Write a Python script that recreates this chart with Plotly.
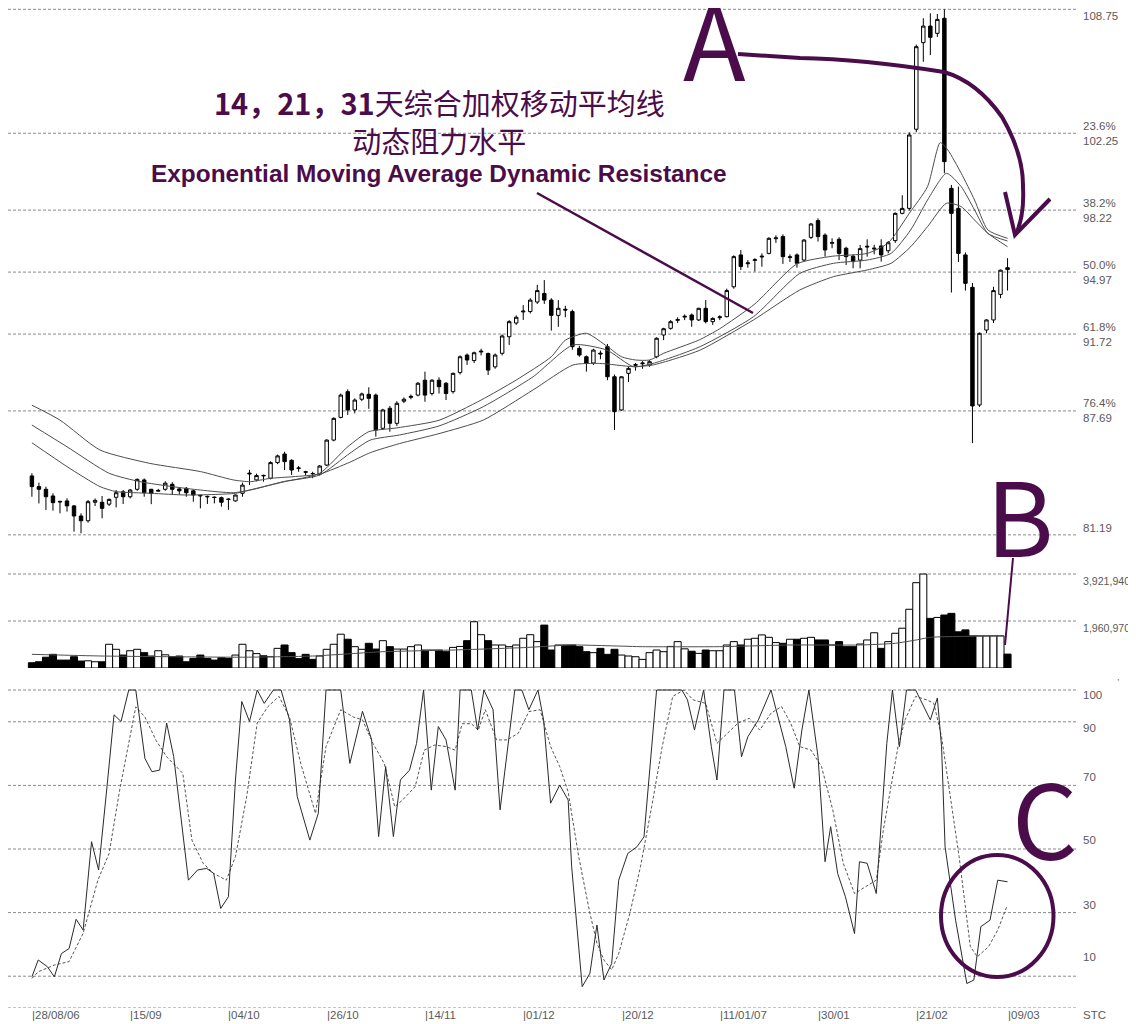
import plotly.graph_objects as go

# ---------------- data ----------------
opens = [84.28,83.72,83.58,83.23,82.95,82.97,82.71,82.18,81.93,82.90,
         82.90,82.80,83.16,83.45,83.19,83.58,84.07,83.58,83.48,83.58,
         83.84,83.60,83.63,83.50,83.26,83.21,83.17,83.14,83.07,82.97,
         83.37,84.38,84.07,84.31,84.16,84.98,85.43,85.10,84.70,84.50,
         84.41,84.38,84.85,86.16,87.35,88.70,87.74,88.30,88.56,88.52,
         86.78,87.83,87.04,88.20,88.40,88.52,89.30,88.60,89.30,89.14,
         88.70,89.70,90.62,90.33,90.78,90.70,90.00,90.71,91.58,92.30,
         92.88,92.90,93.40,93.85,93.50,92.70,93.02,92.90,90.97,90.53,
         90.20,90.72,91.06,89.48,87.74,89.66,90.08,90.16,90.10,90.53,
         91.67,92.02,92.44,92.61,92.72,92.46,93.07,92.37,92.58,92.63,
         94.20,95.87,95.41,95.58,95.76,95.95,96.72,96.83,95.73,95.87,
         95.60,96.79,97.67,96.91,96.48,96.69,96.22,95.80,95.60,96.28,
         96.18,96.34,96.09,96.62,98.05,98.31,102.46,107.00,107.87,107.49,
         108.28,99.36,98.31,95.87,94.17,88.00,91.93,92.46,93.80,95.20]
highs = [84.42,83.93,83.72,83.37,82.97,83.11,82.75,82.32,83.02,83.10,
         83.23,83.10,83.54,83.54,83.60,84.15,84.15,83.60,83.60,84.00,
         83.95,83.70,83.70,83.55,83.30,83.25,83.20,83.20,83.10,83.30,
         83.93,84.60,84.40,84.35,85.05,85.40,85.55,85.15,84.80,84.55,
         84.50,84.85,86.20,87.35,88.60,88.82,88.35,88.65,88.93,88.60,
         87.80,87.95,88.20,88.40,88.55,89.20,89.75,89.35,89.45,89.20,
         89.70,90.60,90.70,90.80,90.95,90.75,90.70,91.70,92.45,92.70,
         93.24,93.60,94.30,94.55,93.60,93.50,93.20,93.00,91.10,90.60,
         90.95,90.85,91.20,89.60,89.50,90.00,90.20,90.30,90.35,91.55,
         92.05,92.45,92.60,92.75,92.80,93.10,93.50,92.60,92.70,94.10,
         95.85,96.13,95.60,95.70,95.95,96.80,96.90,96.95,95.90,95.95,
         96.70,97.55,97.79,97.00,96.74,96.80,96.30,95.90,96.39,96.69,
         96.40,96.69,96.60,98.10,99.00,102.30,106.90,108.28,108.54,108.50,
         108.75,99.54,99.45,96.00,94.40,91.80,92.50,94.20,95.10,95.70]
lows = [83.19,82.84,82.49,82.46,82.32,82.41,81.36,81.27,81.83,82.70,
        82.06,82.70,82.63,82.81,83.10,83.50,83.19,82.80,83.45,83.50,
        83.28,83.30,83.19,82.93,82.58,82.81,82.84,82.67,82.50,82.93,
        83.19,83.80,84.00,83.98,84.10,84.90,84.59,84.33,84.50,84.30,
        84.16,84.30,84.80,86.10,87.30,87.48,87.56,88.20,87.80,86.34,
        86.70,86.60,86.90,88.10,88.30,88.45,88.17,88.50,88.60,88.26,
        88.60,89.60,90.10,90.20,90.60,89.57,89.90,90.60,91.15,92.20,
        92.46,92.80,93.30,93.30,91.90,92.10,92.60,90.90,90.53,89.75,
        90.10,90.40,89.30,86.69,87.70,89.20,89.80,89.90,90.00,90.45,
        91.40,91.95,92.30,92.45,92.10,92.40,92.28,92.20,92.45,92.60,
        94.10,95.08,95.20,95.00,95.25,95.90,96.50,95.40,95.50,95.20,
        95.50,96.70,96.57,95.78,96.22,95.60,95.34,95.17,95.17,95.78,
        95.90,95.52,95.95,96.50,98.00,98.20,102.30,106.00,106.35,107.30,
        100.15,93.90,95.50,94.00,86.00,87.90,91.76,92.30,93.60,94.00]
closes = [83.72,83.58,83.19,82.88,82.92,82.71,82.18,81.93,82.93,83.00,
          82.58,83.05,83.40,83.19,83.54,84.10,83.40,83.37,83.52,83.90,
          83.58,83.50,83.40,83.28,83.24,83.19,83.15,82.90,83.05,83.28,
          83.80,84.42,84.30,84.29,84.98,85.33,85.03,84.59,84.68,84.48,
          84.40,84.80,86.16,87.30,88.52,87.74,88.26,88.58,88.35,86.69,
          87.74,87.04,88.09,88.30,88.45,89.14,88.52,89.30,88.96,88.60,
          89.66,90.53,90.36,90.74,90.82,89.83,90.62,91.62,92.37,92.60,
          92.92,93.50,94.00,93.50,92.70,93.07,92.98,91.06,90.62,90.18,
          90.88,90.68,89.48,87.65,89.48,89.92,90.12,90.20,90.27,91.50,
          92.00,92.37,92.48,92.65,92.46,93.07,92.37,92.54,92.62,94.00,
          95.78,95.26,95.45,95.62,95.80,96.74,96.76,95.78,95.77,95.43,
          96.65,97.49,96.83,96.13,96.52,95.95,95.78,95.52,96.20,96.32,
          96.22,95.87,96.51,98.05,98.31,102.16,106.79,107.87,107.28,108.22,
          100.76,98.05,95.95,94.38,87.95,91.76,92.46,94.00,95.07,95.10]

# volume in millions
volume_m = [0.22,0.26,0.45,0.57,0.33,0.33,0.47,0.29,0.30,0.26,
            0.26,0.99,0.78,0.54,0.72,0.78,0.64,0.50,0.72,0.55,
            0.47,0.50,0.26,0.40,0.54,0.40,0.33,0.43,0.40,0.54,
            0.99,0.72,0.60,0.51,0.47,0.82,0.96,0.64,0.39,0.57,
            0.36,0.50,0.78,0.99,1.41,1.20,0.89,0.78,1.03,0.79,
            1.14,0.89,0.79,0.79,0.89,0.96,0.75,0.75,0.75,0.68,
            0.86,0.90,1.14,1.93,1.39,1.14,0.96,0.96,0.89,0.96,
            1.24,1.39,1.10,1.79,0.75,0.96,0.96,0.96,0.89,0.68,
            0.64,0.82,0.57,0.78,0.54,0.50,0.47,0.36,0.64,0.75,
            0.68,0.90,1.10,0.80,0.70,0.61,0.75,0.72,0.72,0.96,
            1.10,0.96,1.20,1.24,1.38,1.28,1.06,1.03,1.20,1.20,
            1.24,1.28,1.17,1.17,0.96,1.10,0.89,0.89,1.00,1.17,
            1.47,0.82,1.10,1.45,1.66,2.45,3.56,3.92,2.07,2.11,
            2.21,2.28,1.51,1.59,1.34,1.34,1.34,1.34,1.34,0.58]

vma_x = [0, 10, 20, 30, 40, 50, 60, 70, 77, 87, 98, 108, 118, 123, 126, 128, 138.5]
vma_m = [0.57, 0.50, 0.47, 0.45, 0.50, 0.68, 0.75, 0.85, 0.96, 0.89, 0.89, 0.96, 0.96, 1.03, 1.17, 1.28, 1.34]

ema14_x = [0, 5, 9.7, 12, 17, 22, 29, 32, 36, 41, 45, 48, 52, 58, 64, 69, 74, 76, 79, 82, 84, 86, 88, 90,
           95, 98, 103, 109, 114, 119, 122, 125, 127.6, 129.4, 130.5, 132.4, 134.3, 136.2, 139]
ema14_v = [86.02, 84.77, 83.72, 83.46, 83.37, 83.28, 83.37, 83.63, 83.98, 84.42, 85.81, 86.60, 86.80, 87.20,
           88.26, 89.31, 90.53, 91.40, 91.76, 91.06, 90.53, 90.36, 90.36, 90.71, 91.40, 92.00, 93.30, 95.40,
           95.80, 95.95, 96.50, 98.05, 99.45, 101.76, 101.37, 100.15, 98.75, 97.18, 96.74]
ema21_x = [0, 5, 11, 15.4, 20, 24, 28.7, 31.6, 35.8, 41, 45.3, 48.2, 52.4, 58, 64.3, 71.4, 77.1, 81.9, 85.7,
           88.5, 95.2, 102.8, 109.4, 114.2, 119, 122.4, 125.2, 127.6, 130.3, 132.4, 134.3, 136.2, 139]
ema21_v = [86.95, 85.81, 84.42, 83.98, 83.72, 83.54, 83.40, 83.58, 83.98, 84.33, 85.47, 86.16, 86.43, 86.90,
           87.91, 89.48, 91.15, 90.88, 90.01, 90.18, 91.06, 92.63, 94.90, 95.43, 95.60, 95.95, 97.18, 98.75,
           100.15, 99.45, 98.23, 97.00, 96.60]
ema31_x = [0, 4, 9.7, 16.8, 24, 28.7, 31.1, 33.9, 37.2, 41, 45.3, 48.2, 52.4, 58, 64.3, 71.4, 77.1, 80.9, 85.7,
           88.5, 95.2, 102.8, 109.4, 114.2, 119, 122.4, 125.2, 127.6, 130.3, 132.4, 134.3, 136.2, 139]
ema31_v = [87.99, 87.21, 85.64, 84.94, 84.51, 84.07, 83.98, 84.15, 84.24, 84.38, 85.00, 85.50, 85.98, 86.50,
           87.21, 88.79, 90.10, 90.18, 90.01, 90.10, 90.88, 92.46, 94.03, 94.73, 95.08, 95.43, 96.30, 97.35,
           98.58, 98.40, 97.70, 97.00, 96.30]

k_x = [0, 0.9, 2.2, 3.2, 4.2, 5.3, 6.3, 7.3, 8.5, 9.5,
       10.7, 11.7, 12.7, 13.8, 14.8, 16.1, 17.1, 18.2, 19.2, 20.2,
       22.3, 23.6, 24.9, 25.9, 26.9, 28, 29, 29.9, 31, 32.1,
       33.1, 34.4, 35.5, 36.7, 37.8, 39.6, 40.8, 41.9, 44, 45.3,
       47.1, 48.4, 49.4, 50.4, 51.5, 52.5, 53.8, 54.8, 55.8, 56.9,
       57.9, 59, 60.3, 61, 62.6, 63.5, 64.4, 65.7, 66.7, 68,
       68.8, 69.8, 70.8, 72.1, 72.9, 73.9, 75.2, 76.4, 76.9, 78.4,
       79.5, 80.5, 81.5, 82.6, 83.6, 84.9, 86.2, 87.2, 89, 92.6,
       93.4, 94.4, 95.7, 96.8, 97.6, 98.6, 100.1, 101.1, 102, 103.5,
       105.3, 107.4, 108.6, 109.7, 110.7, 112, 113, 113.8, 114.8, 115.9,
       117.2, 117.9, 119, 120.3, 121.8, 122.6, 123.6, 124.6, 125.9, 128,
       129, 129.6, 130.1, 131.6, 133.2, 134.2, 135.2, 136.5, 137.6, 139]
k_v = [9.8, 15.1, 13.0, 9.8, 17.1, 18.7, 27.9, 24.5, 52.3, 43.4,
       69.6, 92.2, 90.1, 100, 100, 78.5, 74.3, 74.8, 89.6, 79.1,
       40.2, 43.4, 43.9, 42.3, 31.3, 35, 71.7, 96.4, 90.1, 100,
       95.8, 100, 100, 90.6, 66.5, 52.8, 61.2, 100, 100, 76.9,
       93.3, 84.4, 53.9, 75.9, 53.9, 71.7, 74.8, 83.2, 100, 68.5,
       88.5, 84.3, 68.5, 100, 100, 87.4, 100, 93.8, 62.3, 86.4,
       100, 100, 93.8, 100, 90.6, 64.4, 70.1, 65.4, 44.4, 6.7,
       10.9, 26.1, 8.8, 14, 40.2, 48.6, 50.7, 53.8, 100, 100,
       96.9, 87.4, 100, 82.2, 71.7, 100, 100, 79, 85.3, 90.6,
       100, 82.2, 69.1, 87.4, 100, 79, 46, 57, 42.3, 35,
       23.4, 46, 45.5, 36, 83.2, 100, 82.2, 100, 100, 90.6,
       97.5, 82.2, 50.7, 27.6, 7.7, 8.8, 25.6, 27.6, 40.2, 39.7]
d_x = [0, 0.9, 3.2, 5.3, 7.3, 9.4, 11, 12.5, 14.8, 16.1,
       17.7, 19.2, 21.5, 22.8, 24.4, 25.9, 27.7, 29, 30.6, 32.1,
       33.6, 35.2, 36.7, 38.3, 40.4, 41.9, 44, 45.8, 47.1, 48.6,
       50.2, 51.7, 52.8, 54.6, 55.9, 57.4, 59, 60.3, 61.3, 62.6,
       63.6, 64.6, 66.2, 67.7, 69.3, 70.8, 72.4, 73.9, 75.2, 76.4,
       77.9, 79.5, 80.5, 81.5, 82.6, 83.6, 85.2, 86.7, 88.3, 89.8,
       91.3, 92.9, 94.2, 96, 97.6, 99.1, 100.6, 102.2, 103.7, 105.3,
       106.8, 108.1, 109.4, 111, 112.5, 114.1, 115.6, 117.2, 118.7, 120.3,
       121.3, 122.3, 123.4, 124.4, 125.9, 127.5, 128.5, 129.6, 130.8, 132.1,
       133.7, 134.7, 136.3, 137.6, 138.9]
d_v = [9.3, 11.4, 13.5, 14.6, 23.5, 40.2, 48.6, 68.5, 94.7, 91.5,
       84.1, 79, 73.8, 52.8, 45.5, 42.3, 40.2, 47.6, 66.5, 89.6,
       94.7, 98, 91.5, 76.9, 61.2, 82.2, 93.8, 91.5, 90.6, 83.2,
       76.9, 63.3, 65.4, 69.6, 81.1, 82.7, 82.2, 81.1, 89.4, 89.4,
       87.4, 93.8, 84.3, 84.3, 86.4, 93.2, 93.8, 82.2, 75.9, 68,
       47.6, 29.8, 20.4, 15.1, 12, 17.1, 29.8, 44.4, 63.3, 82.2,
       98, 100, 96.9, 95.8, 83.2, 86.4, 89.6, 91.1, 87.4, 92.7,
       94.8, 89.6, 82.2, 81.1, 75.9, 62.3, 45.5, 36, 38.1, 40.2,
       55.9, 68.5, 82.2, 90.6, 98, 96.9, 95.8, 85.3, 66.5, 47.6,
       19.3, 16.1, 19.3, 24.5, 31.9]

price_levels = [108.75, 102.25, 98.22, 94.97, 91.72, 87.69, 81.19]
fib_labels = ["", "23.6%", "38.2%", "50.0%", "61.8%", "76.4%", ""]
vol_levels = [3921940, 1960970]
vol_labels = ["3,921,940", "1,960,970"]
stoch_levels = [100, 90, 70, 50, 30, 10, 0]
stoch_labels = ["100", "90", "70", "50", "30", "10", ""]
date_idx = [0, 14, 28, 42, 56, 70, 84, 98, 112, 126, 139]
date_labels = ["28/08/06", "15/09", "04/10", "26/10", "14/11", "01/12",
               "20/12", "11/01/07", "30/01", "21/02", "09/03"]

# ---------------- layout helpers (page pixel coordinates) ----------------
OFF = 8                      # page body margin
W, H = 1128, 1016            # figure size so that figure fills the page after the body margin
PL, PR = 8, 1077             # plot area left/right in page px
PT, PB = 8, 1024             # plot area top/bottom in page px
PURPLE = "#4a0c4a"
GRID = "#8a8a8a"
LABEL = "#5a5a5a"
LBL_FONT = "Liberation Sans"
LETTER_FONT = "Noto Sans CJK SC"
CJK = "Noto Sans CJK SC"


def px(x):
    return (x - PL) / (PR - PL)


def py(y):
    return 1 - (y - PT) / (PB - PT)


def path(points):
    return "M " + " L ".join(f"{px(a):.5f},{py(b):.5f}" for a, b in points)


def qpath(start, segs):
    s = f"M {px(start[0]):.5f},{py(start[1]):.5f}"
    for c, e in segs:
        if c is None:
            s += f" L {px(e[0]):.5f},{py(e[1]):.5f}"
        else:
            s += f" Q {px(c[0]):.5f},{py(c[1]):.5f} {px(e[0]):.5f},{py(e[1]):.5f}"
    return s


# pixel calibration of the price panel: 108.75 at page y 9.3, 19.07 px per unit
def price_at(y):
    return 108.75 - (y - 9.3) / 19.07


idx = list(range(len(closes)))
vol = [v * 1e6 for v in volume_m]
vcol = ["white" if c > o else "black" for o, c in zip(opens, closes)]

fig = go.Figure()

fig.add_trace(go.Candlestick(
    x=idx, open=opens, high=highs, low=lows, close=closes,
    increasing=dict(fillcolor="white", line=dict(color="black", width=1)),
    decreasing=dict(fillcolor="black", line=dict(color="black", width=1)),
    whiskerwidth=0, xaxis="x", yaxis="y", hoverinfo="skip"))

for ex, ev in ((ema14_x, ema14_v), (ema21_x, ema21_v), (ema31_x, ema31_v)):
    fig.add_trace(go.Scatter(x=ex, y=ev, mode="lines", yaxis="y",
                             line=dict(color="#4d4d4d", width=1, shape="spline", smoothing=0.6),
                             hoverinfo="skip"))

fig.add_trace(go.Bar(x=idx, y=vol, yaxis="y2", width=1.0,
                     marker=dict(color=vcol, line=dict(color="black", width=1)),
                     hoverinfo="skip"))
fig.add_trace(go.Scatter(x=vma_x, y=[v * 1e6 for v in vma_m], yaxis="y2", mode="lines",
                         line=dict(color="#4d4d4d", width=1, shape="spline", smoothing=0.5),
                         hoverinfo="skip"))

fig.add_trace(go.Scatter(x=d_x, y=d_v, yaxis="y3", mode="lines",
                         line=dict(color="#555555", width=1, dash="3px,2px"), hoverinfo="skip"))
fig.add_trace(go.Scatter(x=k_x, y=k_v, yaxis="y3", mode="lines",
                         line=dict(color="#2a2a2a", width=1), hoverinfo="skip"))

shapes = []
annotations = []
dash = "3px,2px"
for lv in price_levels:
    shapes.append(dict(type="line", xref="paper", yref="y", x0=0, x1=1, y0=lv, y1=lv,
                       line=dict(color=GRID, width=1, dash=dash), layer="below"))
for lv in vol_levels:
    shapes.append(dict(type="line", xref="paper", yref="y2", x0=0, x1=1, y0=lv, y1=lv,
                       line=dict(color=GRID, width=1, dash=dash), layer="below"))
for lv in stoch_levels:
    shapes.append(dict(type="line", xref="paper", yref="y3", x0=0, x1=1, y0=lv, y1=lv,
                       line=dict(color=GRID, width=1, dash=dash), layer="below"))

lab_font = dict(family=LBL_FONT, size=11.5, color=LABEL)
vol_font = dict(family=LBL_FONT, size=10.6, color=LABEL)
xlab = px(1081)
price_shift = [-7, 0, 0, 0, 0, 0, 7]
for lv, fl, sh in zip(price_levels, fib_labels, price_shift):
    txt = f"{fl}<br>{lv:.2f}" if fl else f"{lv:.2f}"
    annotations.append(dict(x=xlab, xref="paper", y=lv, yref="y", text=txt, showarrow=False,
                            xanchor="left", yanchor="middle", yshift=sh, align="left", font=lab_font))
for lv, tx in zip(vol_levels, vol_labels):
    annotations.append(dict(x=xlab, xref="paper", y=lv, yref="y2", text=tx, showarrow=False,
                            xanchor="left", yanchor="middle", yshift=-7, font=vol_font))
stoch_shift = [-5, -6, 8, 9, 8, 19, 0]
for lv, tx, sh in zip(stoch_levels, stoch_labels, stoch_shift):
    if tx:
        annotations.append(dict(x=xlab, xref="paper", y=lv, yref="y3", text=tx, showarrow=False,
                                xanchor="left", yanchor="middle", yshift=sh, font=lab_font))
annotations.append(dict(x=xlab, xref="paper", y=py(1015), yref="paper", text="STC", showarrow=False,
                        xanchor="left", yanchor="middle", font=lab_font))
annotations.append(dict(x=px(1118), xref="paper", y=py(677), yref="paper", text=",", showarrow=False,
                        xanchor="center", yanchor="middle", font=dict(family=LBL_FONT, size=9, color=LABEL)))
for di, dl in zip(date_idx, date_labels):
    annotations.append(dict(x=di, xref="x", y=py(1015), yref="paper", text="|" + dl, showarrow=False,
                            xanchor="left", yanchor="middle", xshift=-2, font=lab_font))

# titles (two Chinese lines in one block, English line below)
annotations.append(dict(x=px(439), y=py(120.5), xref="paper", yref="paper", showarrow=False,
                        xanchor="center", yanchor="middle", align="center",
                        text="<b>14，21，31</b>天综合加权移动平均线<br>动态阻力水平",
                        font=dict(family=CJK, size=29, color=PURPLE)))
annotations.append(dict(x=px(439), y=py(174), xref="paper", yref="paper", showarrow=False,
                        xanchor="center", yanchor="middle",
                        text="<b>Exponential Moving Average Dynamic Resistance</b>",
                        font=dict(family="Liberation Sans", size=24.4, color=PURPLE)))
# big letters
for ch, cx, cy in (("A", 714, 37), ("B", 1020, 512), ("C", 1045, 815.5)):
    annotations.append(dict(x=px(cx), y=py(cy), xref="paper", yref="paper", showarrow=False,
                            text=ch, xanchor="center", yanchor="middle",
                            font=dict(family=LETTER_FONT, size=103, color=PURPLE)))

# pointer line, arrow, B line, circle
shapes.append(dict(type="line", xref="paper", yref="paper", x0=px(537), y0=py(193), x1=px(753), y1=py(313),
                   line=dict(color=PURPLE, width=2.5)))
shapes.append(dict(type="path", xref="paper", yref="paper",
                   path=qpath((738, 54), [(None, (800, 58)), ((862, 59), (944, 72)),
                                          ((977, 81.5), (1002, 117)), ((1023.5, 154), (1023, 187)),
                                          ((1024.5, 215.5), (1016, 234))]),
                   line=dict(color=PURPLE, width=4)))
shapes.append(dict(type="path", xref="paper", yref="paper",
                   path=path([(1005, 192), (1015, 235), (1050, 199)]),
                   line=dict(color=PURPLE, width=4)))
shapes.append(dict(type="line", xref="paper", yref="paper", x0=px(1013), y0=py(558), x1=px(1005), y1=py(645),
                   line=dict(color=PURPLE, width=2)))
shapes.append(dict(type="circle", xref="paper", yref="paper", x0=px(941), x1=px(1053.5), y0=py(977), y1=py(855),
                   line=dict(color=PURPLE, width=4)))

x_left = (PL - 31.9) / 7.019
x_right = (PR - 31.9) / 7.019
fig.update_layout(
    width=W, height=H, autosize=False,
    margin=dict(l=PL - OFF, r=W - (PR - OFF), t=PT - OFF, b=0, pad=0),
    paper_bgcolor="white", plot_bgcolor="white",
    showlegend=False, bargap=0, boxgap=0.3,
    xaxis=dict(range=[x_left, x_right], showgrid=False, zeroline=False, showticklabels=False,
               ticks="", showline=False, rangeslider=dict(visible=False), fixedrange=True),
    yaxis=dict(domain=[py(548), 1], range=[price_at(548), price_at(PT)],
               showgrid=False, zeroline=False, showticklabels=False, ticks="", fixedrange=True),
    yaxis2=dict(domain=[py(668), py(560)], range=[0, 108 * 41723], anchor="x",
                showgrid=False, zeroline=False, showticklabels=False, ticks="", fixedrange=True),
    yaxis3=dict(domain=[py(1008), py(680)], range=[0, (1008 - 680) / 3.18], anchor="x",
                showgrid=False, zeroline=False, showticklabels=False, ticks="", fixedrange=True),
    shapes=shapes, annotations=annotations,
)

fig.write_html("out.html", config={"displayModeBar": False, "staticPlot": True})
